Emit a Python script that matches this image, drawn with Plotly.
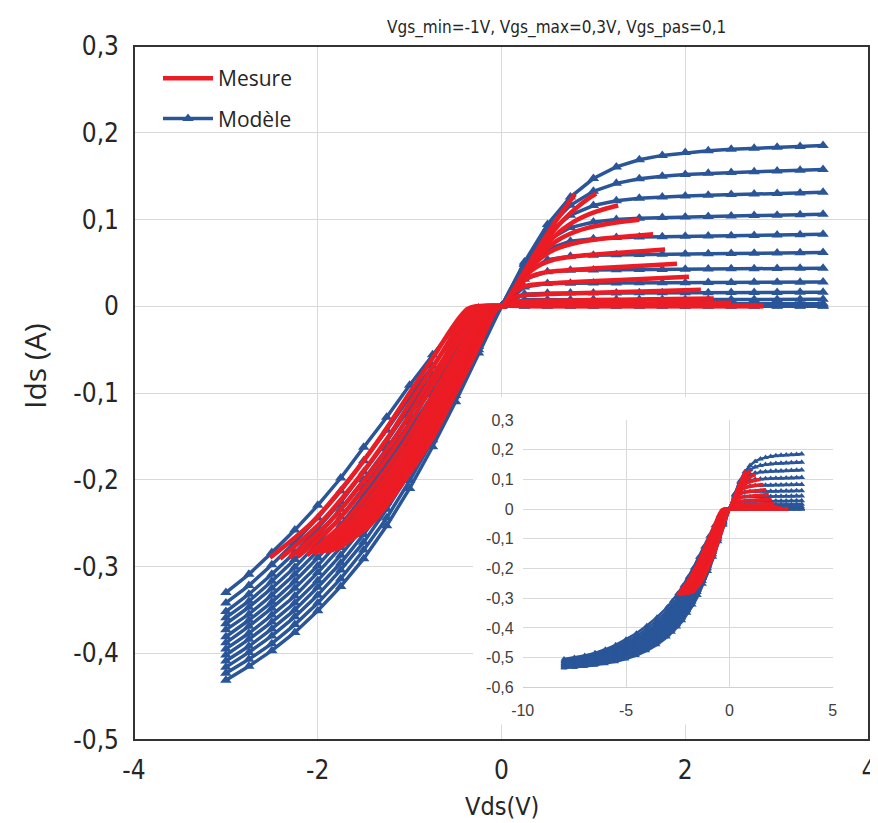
import plotly.graph_objects as go

# ---------------- data ----------------
VGS = [-1.0, -0.9, -0.8, -0.7, -0.6, -0.5, -0.4, -0.3, -0.2, -0.1, 0.0, 0.1, 0.2, 0.3]

# model Vds grid (main range)
X_MOD = [-3.0, -2.75, -2.5, -2.25, -2.0, -1.75, -1.5, -1.25, -1.0, -0.75, -0.5, -0.25, 0.0,
         0.25, 0.5, 0.75, 1.0, 1.25, 1.5, 1.75, 2.0, 2.25, 2.5, 2.75, 3.0, 3.25, 3.5]
# model Vds tail (only visible in the inset)
X_TAIL = [-8.0, -7.5, -7.0, -6.5, -6.0, -5.5, -5.0, -4.5, -4.0, -3.5]

# model Ids per Vgs, on X_MOD
MOD_M10 = [-0.330, -0.309, -0.284, -0.258, -0.2295, -0.198, -0.1625, -0.128, -0.091, -0.056, -0.022, -0.002, 0.0,
           0.0, 0.0, 0.0, 0.0, 0.0, 0.0, 0.0, 0.0, 0.0, 0.0, 0.0, 0.0, 0.0, 0.0]
MOD_M09 = [-0.342, -0.322, -0.298, -0.272, -0.244, -0.213, -0.178, -0.143, -0.105, -0.069, -0.033, -0.008, 0.0,
           0.0002, 0.0003, 0.0003, 0.0003, 0.0003, 0.0003, 0.0003, 0.0003, 0.0003, 0.0003, 0.0003, 0.0003, 0.0003, 0.0003]
MOD_M08 = [-0.352, -0.332, -0.309, -0.284, -0.256, -0.226, -0.191, -0.156, -0.117, -0.079, -0.041, -0.013, 0.0,
           0.0008, 0.0009, 0.0009, 0.0009, 0.0009, 0.0009, 0.0009, 0.0010, 0.0010, 0.0010, 0.0010, 0.0010, 0.0010, 0.0010]
MOD_M07 = [-0.359, -0.340, -0.317, -0.292, -0.265, -0.234, -0.200, -0.164, -0.126, -0.087, -0.048, -0.017, 0.0,
           0.0027, 0.0028, 0.0028, 0.0029, 0.0029, 0.0029, 0.0029, 0.0029, 0.0029, 0.0029, 0.0029, 0.0030, 0.0030, 0.0030]
MOD_M06 = [-0.366, -0.347, -0.325, -0.301, -0.273, -0.243, -0.209, -0.173, -0.134, -0.094, -0.054, -0.021, 0.0,
           0.0074, 0.0076, 0.0076, 0.0077, 0.0077, 0.0077, 0.0078, 0.0078, 0.0078, 0.0079, 0.0079, 0.0079, 0.0080, 0.0080]
MOD_M05 = [-0.373, -0.355, -0.333, -0.309, -0.282, -0.252, -0.218, -0.182, -0.142, -0.102, -0.060, -0.024, 0.0,
           0.0140, 0.0151, 0.0152, 0.0153, 0.0154, 0.0155, 0.0155, 0.0156, 0.0157, 0.0158, 0.0158, 0.0159, 0.0160, 0.0160]
MOD_M04 = [-0.381, -0.362, -0.341, -0.317, -0.290, -0.261, -0.227, -0.191, -0.151, -0.109, -0.066, -0.028, 0.0,
           0.0223, 0.0261, 0.0266, 0.0267, 0.0268, 0.0270, 0.0271, 0.0272, 0.0273, 0.0275, 0.0276, 0.0277, 0.0278, 0.0280]
MOD_M03 = [-0.388, -0.369, -0.348, -0.325, -0.299, -0.269, -0.236, -0.199, -0.159, -0.116, -0.072, -0.032, 0.0,
           0.0310, 0.0399, 0.0415, 0.0419, 0.0421, 0.0423, 0.0425, 0.0427, 0.0429, 0.0431, 0.0433, 0.0435, 0.0437, 0.0439]
MOD_M02 = [-0.395, -0.377, -0.356, -0.334, -0.307, -0.278, -0.245, -0.208, -0.167, -0.124, -0.078, -0.035, 0.0,
           0.0380, 0.0537, 0.0577, 0.0589, 0.0594, 0.0597, 0.0599, 0.0602, 0.0605, 0.0608, 0.0610, 0.0613, 0.0616, 0.0619]
MOD_M01 = [-0.402, -0.384, -0.364, -0.342, -0.316, -0.287, -0.254, -0.217, -0.176, -0.131, -0.085, -0.039, 0.0,
           0.0428, 0.0660, 0.0749, 0.0779, 0.0792, 0.0798, 0.0802, 0.0806, 0.0810, 0.0814, 0.0817, 0.0821, 0.0825, 0.0829]
MOD_P00 = [-0.409, -0.392, -0.372, -0.350, -0.324, -0.296, -0.263, -0.226, -0.184, -0.139, -0.091, -0.043, 0.0,
           0.0456, 0.0757, 0.0907, 0.0972, 0.1001, 0.1015, 0.1023, 0.1029, 0.1035, 0.1040, 0.1045, 0.1050, 0.1055, 0.1060]
MOD_P01 = [-0.416, -0.399, -0.380, -0.358, -0.333, -0.304, -0.272, -0.234, -0.192, -0.146, -0.097, -0.046, 0.0,
           0.0480, 0.0837, 0.1049, 0.1161, 0.1216, 0.1245, 0.1260, 0.1271, 0.1279, 0.1287, 0.1294, 0.1300, 0.1306, 0.1313]
MOD_P02 = [-0.423, -0.407, -0.389, -0.367, -0.342, -0.314, -0.281, -0.244, -0.201, -0.154, -0.103, -0.050, 0.0,
           0.0496, 0.0896, 0.1164, 0.1325, 0.1417, 0.1469, 0.1499, 0.1518, 0.1532, 0.1542, 0.1551, 0.1559, 0.1568, 0.1575]
MOD_P03 = [-0.431, -0.415, -0.397, -0.376, -0.351, -0.323, -0.291, -0.253, -0.210, -0.162, -0.110, -0.054, 0.0,
           0.0510, 0.0941, 0.1259, 0.1472, 0.1606, 0.1689, 0.1739, 0.1771, 0.1793, 0.1809, 0.1821, 0.1832, 0.1842, 0.1852]

# model Ids per Vgs, on X_TAIL
TAIL_M10 = [-0.505, -0.500, -0.493, -0.484, -0.472, -0.457, -0.438, -0.418, -0.393, -0.364]
TAIL_M09 = [-0.509, -0.504, -0.497, -0.489, -0.478, -0.464, -0.446, -0.427, -0.403, -0.375]
TAIL_M08 = [-0.511, -0.507, -0.501, -0.493, -0.483, -0.470, -0.452, -0.435, -0.412, -0.385]
TAIL_M07 = [-0.513, -0.510, -0.504, -0.497, -0.486, -0.474, -0.457, -0.440, -0.417, -0.391]
TAIL_M06 = [-0.515, -0.512, -0.506, -0.499, -0.490, -0.477, -0.462, -0.445, -0.424, -0.397]
TAIL_M05 = [-0.518, -0.514, -0.509, -0.502, -0.493, -0.482, -0.467, -0.450, -0.429, -0.404]
TAIL_M04 = [-0.520, -0.517, -0.512, -0.506, -0.496, -0.486, -0.472, -0.455, -0.435, -0.411]
TAIL_M03 = [-0.523, -0.519, -0.514, -0.508, -0.500, -0.489, -0.476, -0.461, -0.441, -0.417]
TAIL_M02 = [-0.525, -0.521, -0.517, -0.511, -0.503, -0.494, -0.481, -0.466, -0.446, -0.424]
TAIL_M01 = [-0.527, -0.524, -0.519, -0.514, -0.507, -0.497, -0.486, -0.471, -0.453, -0.430]
TAIL_P00 = [-0.529, -0.526, -0.522, -0.517, -0.510, -0.501, -0.491, -0.477, -0.458, -0.436]
TAIL_P01 = [-0.531, -0.528, -0.524, -0.520, -0.514, -0.506, -0.495, -0.482, -0.465, -0.443]
TAIL_P02 = [-0.533, -0.531, -0.527, -0.523, -0.517, -0.510, -0.500, -0.488, -0.471, -0.450]
TAIL_P03 = [-0.535, -0.533, -0.530, -0.526, -0.521, -0.514, -0.505, -0.493, -0.477, -0.457]

# measured curves (Vds, Ids) per Vgs
MES_X_M10 = [-2.52, -2.07, -1.66, -1.31, -1.00, -0.75, -0.57, -0.45, -0.37, -0.28, 0.5, 1.5, 2.85]
MES_Y_M10 = [-0.290, -0.25, -0.2, -0.15, -0.1, -0.06, -0.03, -0.012, -0.003, 0.0, 0.0, 0.0, 0.0]
MES_X_M09 = [-2.41, -1.974, -1.572, -1.227, -0.928, -0.686, -0.513, -0.399, -0.324, -0.239, 0.5, 1.5, 2.85]
MES_Y_M09 = [-0.291, -0.25, -0.2, -0.15, -0.1, -0.06, -0.03, -0.012, -0.003, 0.0, 0.0002, 0.0003, 0.0003]
MES_X_M08 = [-2.307, -1.885, -1.489, -1.15, -0.86, -0.627, -0.461, -0.352, -0.28, -0.202, 0.5, 1.5, 2.85]
MES_Y_M08 = [-0.290, -0.25, -0.2, -0.15, -0.1, -0.06, -0.03, -0.012, -0.003, 0.0, 0.0007, 0.0009, 0.001]
MES_X_M07 = [-2.22, -1.809, -1.419, -1.085, -0.802, -0.576, -0.416, -0.312, -0.244, -0.169, 0.03, 0.13, 0.3, 1.0, 1.8, 2.5]
MES_Y_M07 = [-0.289, -0.25, -0.2, -0.15, -0.1, -0.06, -0.03, -0.012, -0.003, 0.0, 0.0, 0.002, 0.0025, 0.003, 0.0035, 0.004]
MES_X_M06 = [-2.117, -1.72, -1.337, -1.008, -0.735, -0.517, -0.363, -0.264, -0.2, -0.132, 0.03, 0.08, 0.13, 0.23, 0.43, 1.03, 1.63, 2.31]
MES_Y_M06 = [-0.287, -0.25, -0.2, -0.15, -0.1, -0.06, -0.03, -0.012, -0.003, 0.0, 0.0, 0.0035, 0.0052, 0.0059, 0.0062, 0.0071, 0.008, 0.009]
MES_X_M05 = [-2.041, -1.654, -1.276, -0.951, -0.685, -0.473, -0.324, -0.229, -0.168, -0.104, 0.03, 0.08, 0.13, 0.23, 0.33, 0.53, 1.03, 1.53, 2.17]
MES_Y_M05 = [-0.286, -0.25, -0.2, -0.15, -0.1, -0.06, -0.03, -0.012, -0.003, 0.0, 0.0, 0.0057, 0.0096, 0.0126, 0.0134, 0.0141, 0.0156, 0.0171, 0.019]
MES_X_M04 = [-1.973, -1.595, -1.221, -0.90, -0.64, -0.433, -0.289, -0.198, -0.14, -0.078, 0.03, 0.08, 0.13, 0.23, 0.33, 0.43, 0.63, 1.03, 1.53, 2.04]
MES_Y_M04 = [-0.285, -0.25, -0.2, -0.15, -0.1, -0.06, -0.03, -0.012, -0.003, 0.0, 0.0, 0.0085, 0.0151, 0.0223, 0.0248, 0.0258, 0.027, 0.029, 0.0315, 0.034]
MES_X_M03 = [-1.92, -1.549, -1.178, -0.86, -0.605, -0.402, -0.262, -0.173, -0.117, -0.059, 0.03, 0.13, 0.23, 0.33, 0.43, 0.53, 0.73, 1.03, 1.33, 1.63, 1.91]
MES_Y_M03 = [-0.284, -0.25, -0.2, -0.15, -0.1, -0.06, -0.03, -0.012, -0.003, 0.0, 0.0, 0.0165, 0.0282, 0.0348, 0.0381, 0.0399, 0.0417, 0.0437, 0.0455, 0.0473, 0.049]
MES_X_M02 = [-1.882, -1.516, -1.148, -0.831, -0.58, -0.38, -0.242, -0.156, -0.101, -0.045, 0.03, 0.13, 0.23, 0.33, 0.43, 0.53, 0.63, 0.83, 1.03, 1.23, 1.43, 1.63, 1.78]
MES_Y_M02 = [-0.283, -0.25, -0.2, -0.15, -0.1, -0.06, -0.03, -0.012, -0.003, 0.0, 0.0, 0.0171, 0.0313, 0.0415, 0.0482, 0.0524, 0.055, 0.058, 0.0598, 0.0613, 0.0628, 0.0642, 0.0653]
MES_X_M01 = [-1.851, -1.489, -1.123, -0.808, -0.56, -0.363, -0.227, -0.142, -0.088, -0.034, 0.03, 0.13, 0.23, 0.33, 0.43, 0.53, 0.63, 0.83, 1.03, 1.23, 1.43, 1.65]
MES_Y_M01 = [-0.282, -0.25, -0.2, -0.15, -0.1, -0.06, -0.03, -0.012, -0.003, 0.0, 0.0, 0.0175, 0.0332, 0.046, 0.0557, 0.0627, 0.0676, 0.0735, 0.077, 0.0792, 0.0811, 0.0829]
MES_X_P00 = [-1.821, -1.463, -1.099, -0.786, -0.54, -0.345, -0.211, -0.128, -0.076, -0.022, 0.03, 0.13, 0.23, 0.33, 0.43, 0.53, 0.63, 0.73, 0.83, 0.93, 1.03, 1.23, 1.5]
MES_Y_P00 = [-0.281, -0.25, -0.2, -0.15, -0.1, -0.06, -0.03, -0.012, -0.003, 0.0, 0.0, 0.0177, 0.0342, 0.0485, 0.0605, 0.0699, 0.0772, 0.0827, 0.0869, 0.0901, 0.0925, 0.0962, 0.0996]
MES_X_P01 = [-1.798, -1.443, -1.08, -0.768, -0.525, -0.332, -0.199, -0.117, -0.066, -0.014, 0.03, 0.13, 0.23, 0.33, 0.43, 0.53, 0.63, 0.73, 0.83, 0.93, 1.03, 1.13, 1.27]
MES_Y_P01 = [-0.280, -0.25, -0.2, -0.15, -0.1, -0.06, -0.03, -0.012, -0.003, 0.0, 0.0, 0.0178, 0.0349, 0.0505, 0.0643, 0.076, 0.0856, 0.0935, 0.0999, 0.105, 0.1091, 0.1124, 0.1161]
MES_X_P02 = [-1.783, -1.43, -1.068, -0.757, -0.515, -0.323, -0.192, -0.11, -0.06, 0.01, 0.13, 0.23, 0.33, 0.43, 0.53, 0.63, 0.73, 0.83, 0.93, 1.03]
MES_Y_P02 = [-0.279, -0.25, -0.2, -0.15, -0.1, -0.06, -0.03, -0.012, -0.003, 0.0, 0.0181, 0.0357, 0.0525, 0.068, 0.082, 0.0945, 0.1054, 0.1148, 0.123, 0.1299]
MES_X_P03 = [-1.76, -1.41, -1.05, -0.74, -0.50, -0.31, -0.18, -0.10, -0.05, 0.01, 0.13, 0.23, 0.33, 0.43, 0.53, 0.63, 0.73, 0.80]
MES_Y_P03 = [-0.278, -0.25, -0.2, -0.15, -0.1, -0.06, -0.03, -0.012, -0.003, 0.0, 0.0185, 0.0367, 0.0546, 0.0719, 0.0885, 0.1042, 0.119, 0.1289]

# axis ticks
X_TICKS = [-4, -2, 0, 2, 4]
X_TICKTEXT = ["-4", "-2", "0", "2", "4"]
Y_TICKS = [-0.5, -0.4, -0.3, -0.2, -0.1, 0.0, 0.1, 0.2, 0.3]
Y_TICKTEXT = ["-0,5", "-0,4", "-0,3", "-0,2", "-0,1", "0", "0,1", "0,2", "0,3"]
X2_TICKS = [-10, -5, 0, 5]
X2_TICKTEXT = ["-10", "-5", "0", "5"]
Y2_TICKS = [-0.6, -0.5, -0.4, -0.3, -0.2, -0.1, 0.0, 0.1, 0.2, 0.3]
Y2_TICKTEXT = ["-0,6", "-0,5", "-0,4", "-0,3", "-0,2", "-0,1", "0", "0,1", "0,2", "0,3"]

TITLE = "Vgs_min=-1V, Vgs_max=0,3V, Vgs_pas=0,1"
X_TITLE = "Vds(V)"
Y_TITLE = "Ids (A)"

# ---------------- assembly ----------------
MODELS = [MOD_M10, MOD_M09, MOD_M08, MOD_M07, MOD_M06, MOD_M05, MOD_M04,
          MOD_M03, MOD_M02, MOD_M01, MOD_P00, MOD_P01, MOD_P02, MOD_P03]
TAILS = [TAIL_M10, TAIL_M09, TAIL_M08, TAIL_M07, TAIL_M06, TAIL_M05, TAIL_M04,
         TAIL_M03, TAIL_M02, TAIL_M01, TAIL_P00, TAIL_P01, TAIL_P02, TAIL_P03]
MES = [(MES_X_M10, MES_Y_M10), (MES_X_M09, MES_Y_M09), (MES_X_M08, MES_Y_M08),
       (MES_X_M07, MES_Y_M07), (MES_X_M06, MES_Y_M06), (MES_X_M05, MES_Y_M05),
       (MES_X_M04, MES_Y_M04), (MES_X_M03, MES_Y_M03), (MES_X_M02, MES_Y_M02),
       (MES_X_M01, MES_Y_M01), (MES_X_P00, MES_Y_P00), (MES_X_P01, MES_Y_P01),
       (MES_X_P02, MES_Y_P02), (MES_X_P03, MES_Y_P03)]

BLUE = "#2A5699"
RED = "#EC1C24"
NARROW = "DejaVu Sans Condensed, Liberation Sans Narrow, Arial Narrow, sans-serif"
TXT = "#262626"

fig = go.Figure()

# main: model
for i, ys in enumerate(MODELS):
    fig.add_trace(go.Scatter(
        x=X_MOD, y=ys, mode="lines+markers", name="Modèle",
        legendgroup="mod", showlegend=(i == 0), legendrank=2,
        line=dict(color=BLUE, width=3.5),
        marker=dict(symbol="triangle-up", size=10, color=BLUE),
        xaxis="x", yaxis="y", hoverinfo="skip"))
# main: measurement
for i, (xs, ys) in enumerate(MES):
    fig.add_trace(go.Scatter(
        x=xs, y=ys, mode="lines", name="Mesure",
        legendgroup="mes", showlegend=(i == 0), legendrank=1,
        line=dict(color=RED, width=4.5, shape="spline", smoothing=0.8),
        xaxis="x", yaxis="y", hoverinfo="skip"))

# white background of the inset box (hides main grid)
fig.add_trace(go.Scatter(
    x=[-0.31, 4.0, 4.0, -0.31, -0.31], y=[-0.105, -0.105, -0.482, -0.482, -0.105],
    mode="lines", fill="toself", fillcolor="white", line=dict(width=0, color="white"),
    showlegend=False, hoverinfo="skip", xaxis="x", yaxis="y"))

# inset: model
for i, ys in enumerate(MODELS):
    fig.add_trace(go.Scatter(
        x=X_TAIL + X_MOD, y=TAILS[i] + ys, mode="lines+markers",
        showlegend=False, line=dict(color=BLUE, width=2.5),
        marker=dict(symbol="triangle-up", size=6, color=BLUE),
        xaxis="x2", yaxis="y2", hoverinfo="skip"))
# inset: measurement
for xs, ys in MES:
    fig.add_trace(go.Scatter(
        x=xs, y=ys, mode="lines", showlegend=False,
        line=dict(color=RED, width=3.5, shape="spline", smoothing=0.8),
        xaxis="x2", yaxis="y2", hoverinfo="skip"))

# page body has an 8px margin: figure is placed at (8, 8) in the window
OFF = 8
W, H = 878 - OFF, 823 - OFF
PL, PR, PT, PB = 134, 869, 46, 740          # plot area in window pixels
L, T = PL - OFF, PT - OFF
R, B = W + OFF - PR, H + OFF - PB
PW, PH = PR - PL, PB - PT


def px(x):
    return (x - PL) / PW


def py(y):
    return (PB - y) / PH


fig.update_layout(
    width=W, height=H,
    margin=dict(l=L, r=R, t=T, b=B, autoexpand=False),
    paper_bgcolor="white", plot_bgcolor="white",
    showlegend=True,
    legend=dict(x=px(158), y=py(58), xanchor="left", yanchor="top",
                bgcolor="rgba(0,0,0,0)", itemwidth=50,
                font=dict(family="Open Sans, sans-serif", size=21, color=TXT),
                tracegroupgap=10, traceorder="grouped"),
    xaxis=dict(range=[-4, 4], tickvals=X_TICKS, ticktext=X_TICKTEXT,
               showgrid=True, gridcolor="#D9D9D9", gridwidth=1, zeroline=False,
               showline=False, ticks="", ticklabelstandoff=12, automargin=False,
               tickfont=dict(family=NARROW, size=26, color=TXT)),
    yaxis=dict(range=[-0.5, 0.3], tickvals=Y_TICKS, ticktext=Y_TICKTEXT,
               showgrid=True, gridcolor="#D9D9D9", gridwidth=1, zeroline=False,
               showline=False, ticks="", ticklabelstandoff=14, automargin=False,
               tickfont=dict(family=NARROW, size=26, color=TXT)),
    xaxis2=dict(domain=[px(522.7), px(832.7)], anchor="y2", range=[-10, 5],
                tickvals=X2_TICKS, ticktext=X2_TICKTEXT,
                showgrid=True, gridcolor="#D9D9D9", gridwidth=1, zeroline=False,
                showline=True, linecolor="#D0D0D0", linewidth=1,
                ticks="", ticklabelstandoff=8, automargin=False,
                tickfont=dict(family="Liberation Sans, Arial, sans-serif", size=16, color="#404040")),
    yaxis2=dict(domain=[py(687.3), py(420)], anchor="x2", range=[-0.6, 0.3],
                tickvals=Y2_TICKS, ticktext=Y2_TICKTEXT,
                showgrid=True, gridcolor="#D9D9D9", gridwidth=1, zeroline=False,
                showline=False, ticks="", ticklabelstandoff=8, automargin=False,
                tickfont=dict(family="Liberation Sans, Arial, sans-serif", size=16, color="#404040")),
    shapes=[dict(type="rect", xref="x domain", yref="y domain", x0=0, x1=1, y0=0, y1=1,
                 line=dict(color="#333333", width=2), fillcolor="rgba(0,0,0,0)", layer="above")],
    annotations=[
        dict(text=TITLE, xref="paper", yref="paper", x=px(556), y=py(28),
             xanchor="center", yanchor="middle", showarrow=False,
             font=dict(family=NARROW, size=17, color=TXT)),
        dict(text=Y_TITLE, xref="paper", yref="paper", x=px(34), y=py(366),
             xanchor="center", yanchor="middle", textangle=-90, showarrow=False,
             font=dict(family="Open Sans, sans-serif", size=30, color=TXT)),
        dict(text=X_TITLE, xref="paper", yref="paper", x=px(502), y=py(806),
             xanchor="center", yanchor="middle", showarrow=False,
             font=dict(family=NARROW, size=25, color=TXT)),
    ],
)

fig.write_html("out.html")
